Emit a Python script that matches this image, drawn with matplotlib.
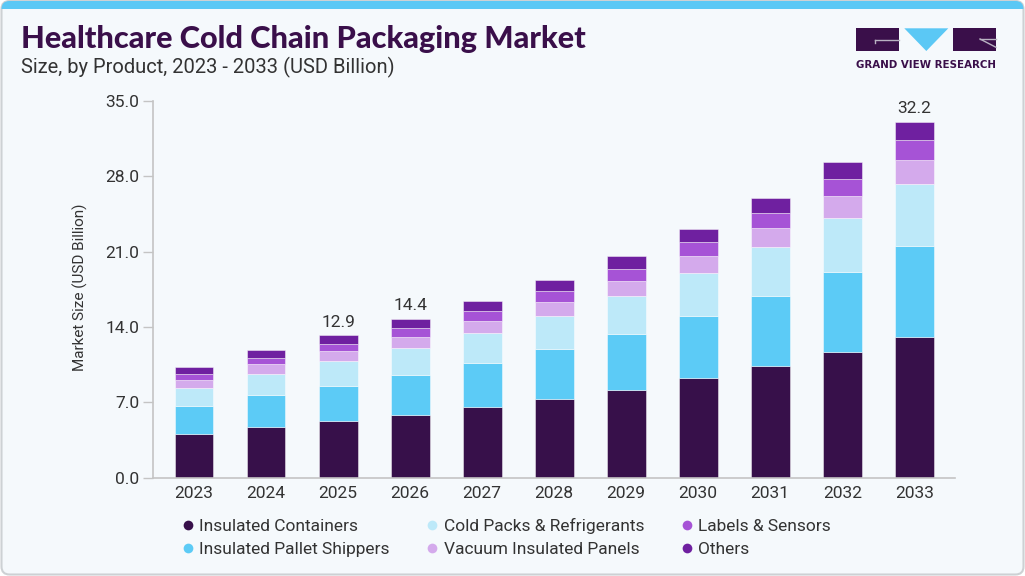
import matplotlib
matplotlib.use('Agg')
import matplotlib.pyplot as plt
from matplotlib import font_manager as fm
from matplotlib.patches import FancyBboxPatch, Rectangle, Polygon
from matplotlib.lines import Line2D
from matplotlib.transforms import IdentityTransform
import numpy as np

# ---------------- data ----------------
years = ['2023', '2024', '2025', '2026', '2027', '2028', '2029', '2030', '2031', '2032', '2033']
insulated_containers = [4.10, 4.75, 5.28, 5.86, 6.57, 7.31, 8.18, 9.22, 10.37, 11.67, 13.10]
insulated_pallet_shippers = [2.58, 2.95, 3.26, 3.70, 4.09, 4.62, 5.18, 5.84, 6.55, 7.41, 8.44]
cold_packs_refrigerants = [1.70, 1.98, 2.26, 2.49, 2.79, 3.10, 3.56, 3.97, 4.50, 5.09, 5.74]
vacuum_insulated_panels = [0.72, 0.84, 0.93, 1.02, 1.14, 1.30, 1.39, 1.58, 1.80, 1.98, 2.26]
labels_sensors = [0.53, 0.62, 0.72, 0.84, 0.90, 0.99, 1.12, 1.27, 1.40, 1.62, 1.86]
others = [0.65, 0.72, 0.77, 0.84, 0.90, 1.02, 1.18, 1.27, 1.40, 1.55, 1.65]

series_names = ['Insulated Containers', 'Insulated Pallet Shippers', 'Cold Packs & Refrigerants',
                'Vacuum Insulated Panels', 'Labels & Sensors', 'Others']
series_values = [insulated_containers, insulated_pallet_shippers, cold_packs_refrigerants,
                 vacuum_insulated_panels, labels_sensors, others]
series_colors = ['#37104a', '#5ccbf6', '#bde9f9', '#d4aaec', '#a653d6', '#6f20a0']

label_years = ['2025', '2026', '2033']
label_texts = ['12.9', '14.4', '32.2']

y_ticks = [0, 7, 14, 21, 28, 35]

# ---------------- fonts ----------------
def available(name):
    try:
        fm.findfont(fm.FontProperties(family=name), fallback_to_default=False)
        return True
    except Exception:
        return False

def pick(names):
    for n in names:
        if available(n):
            return n
    return 'DejaVu Sans'

body_font = pick(['Roboto', 'Liberation Sans', 'DejaVu Sans'])
title_font = pick(['Lato', 'Roboto', 'DejaVu Sans'])
plt.rcParams['font.family'] = [body_font, 'DejaVu Sans']

W, H = 1025, 576
fig = plt.figure(figsize=(W / 100, H / 100), dpi=100, facecolor='white')
ident = IdentityTransform()

# ---------------- card background ----------------
card = FancyBboxPatch((1.5, 1.5), W - 3, H - 2.5, boxstyle='round,pad=0,rounding_size=8',
                      transform=ident, facecolor='#f5f9fc', edgecolor='#cdd1d4', lw=1.5, zorder=-10)
fig.add_artist(card)
band = Rectangle((0, H - 8.5), W, 10, transform=ident, facecolor='#5bc8f5',
                 edgecolor='none', zorder=-9)
fig.add_artist(band)
band.set_clip_path(card)

# ---------------- axes ----------------
ax_left, ax_right, ax_top, ax_bottom = 153.3, 955.0, 101.0, 477.7
ax = fig.add_axes([ax_left / W, 1 - ax_bottom / H, (ax_right - ax_left) / W, (ax_bottom - ax_top) / H])
ax.set_facecolor('none')

x = np.arange(len(years))
bottom = np.zeros(len(years))
for name, vals, col in zip(series_names, series_values, series_colors):
    v = np.array(vals)
    ax.bar(x, v, 0.54, bottom=bottom, color=col, edgecolor=(1, 1, 1, 0.45),
           linewidth=0.7, label=name, zorder=2)
    bottom = bottom + v

totals = bottom
for yr, txt in zip(label_years, label_texts):
    i = years.index(yr)
    ax.annotate(txt, (x[i], totals[i]), xytext=(0, 4), textcoords='offset points',
                ha='center', va='bottom', fontsize=12.5, color='#333333')

ax.set_xlim(-0.565, len(years) - 1 + 0.565)
ax.set_ylim(0, 35)
ax.set_xticks(x)
ax.set_xticklabels(years)
ax.set_yticks(y_ticks)
ax.set_yticklabels([f'{t:.1f}' for t in y_ticks])
for s in ['top', 'right']:
    ax.spines[s].set_visible(False)
for s in ['left', 'bottom']:
    ax.spines[s].set_color('#c4c4c4')
    ax.spines[s].set_linewidth(1.2)
ax.tick_params(axis='y', length=7, width=1, color='#c4c4c4', pad=3, labelsize=12.5, labelcolor='#333333')
ax.tick_params(axis='x', length=0, pad=6, labelsize=12.5, labelcolor='#333333')

fig.text(80 / W, 1 - 287 / H, 'Market Size (USD Billion)', rotation=90, ha='center', va='center',
         fontsize=11, color='#333333')

# ---------------- legend ----------------
handles = [Line2D([], [], marker='o', linestyle='none', markersize=7, markerfacecolor=c,
                  markeredgecolor='none') for c in series_colors]
fig.legend(handles, series_names, ncol=3, loc='upper left',
           bbox_to_anchor=(172 / W, 1 - 509 / H), bbox_transform=fig.transFigure,
           frameon=False, borderpad=0, handlelength=0.8, handletextpad=0.25,
           columnspacing=2.07, labelspacing=0.47, fontsize=12.5, labelcolor='#333333')

# ---------------- titles ----------------
renderer = fig.canvas.get_renderer()

def fit_width(t, target):
    bb = t.get_window_extent(renderer)
    t.set_fontsize(t.get_fontsize() * target / bb.width)

title = fig.text(21, H - 47.7, 'Healthcare Cold Chain Packaging Market', transform=ident,
                 ha='left', va='baseline', fontsize=20, fontweight='black',
                 family=[title_font, 'DejaVu Sans'], color='#3a0f4a')
fit_width(title, 567)
sub = fig.text(21, H - 73, 'Size, by Product, 2023 - 2033 (USD Billion)', transform=ident,
               ha='left', va='baseline', fontsize=13, color='#333333')
fit_width(sub, 374)

# ---------------- logo ----------------
logo_dark = '#3a0f4a'
ly0, ly1 = H - 51, H - 28.3
fig.add_artist(Rectangle((856, ly0), 43.3, ly1 - ly0, transform=ident, facecolor=logo_dark, edgecolor='none'))
fig.add_artist(Polygon([(904.3, ly1), (948.3, ly1), (926.3, ly0)], closed=True, transform=ident,
                       facecolor='#5bc8f5', edgecolor='none'))
fig.add_artist(Rectangle((953.3, ly0), 42.7, ly1 - ly0, transform=ident, facecolor=logo_dark, edgecolor='none'))
line_c = '#b9b2c2'
fig.add_artist(Line2D([875, 899.3], [H - 40, H - 40], transform=ident, color=line_c, lw=1))
fig.add_artist(Line2D([875, 875], [H - 40, H - 42.5], transform=ident, color=line_c, lw=1))
fig.add_artist(Line2D([980, 996], [H - 39, H - 39], transform=ident, color=line_c, lw=1))
fig.add_artist(Line2D([980, 996], [H - 39, H - 47.3], transform=ident, color=line_c, lw=1))
gvr = fig.text(926, H - 67.7, 'GRAND VIEW RESEARCH', transform=ident, ha='center', va='baseline',
               fontsize=7.5, fontweight='bold', family=['DejaVu Sans'], color=logo_dark)
fit_width(gvr, 140)

fig.savefig('out.png', dpi=100, facecolor='white')
